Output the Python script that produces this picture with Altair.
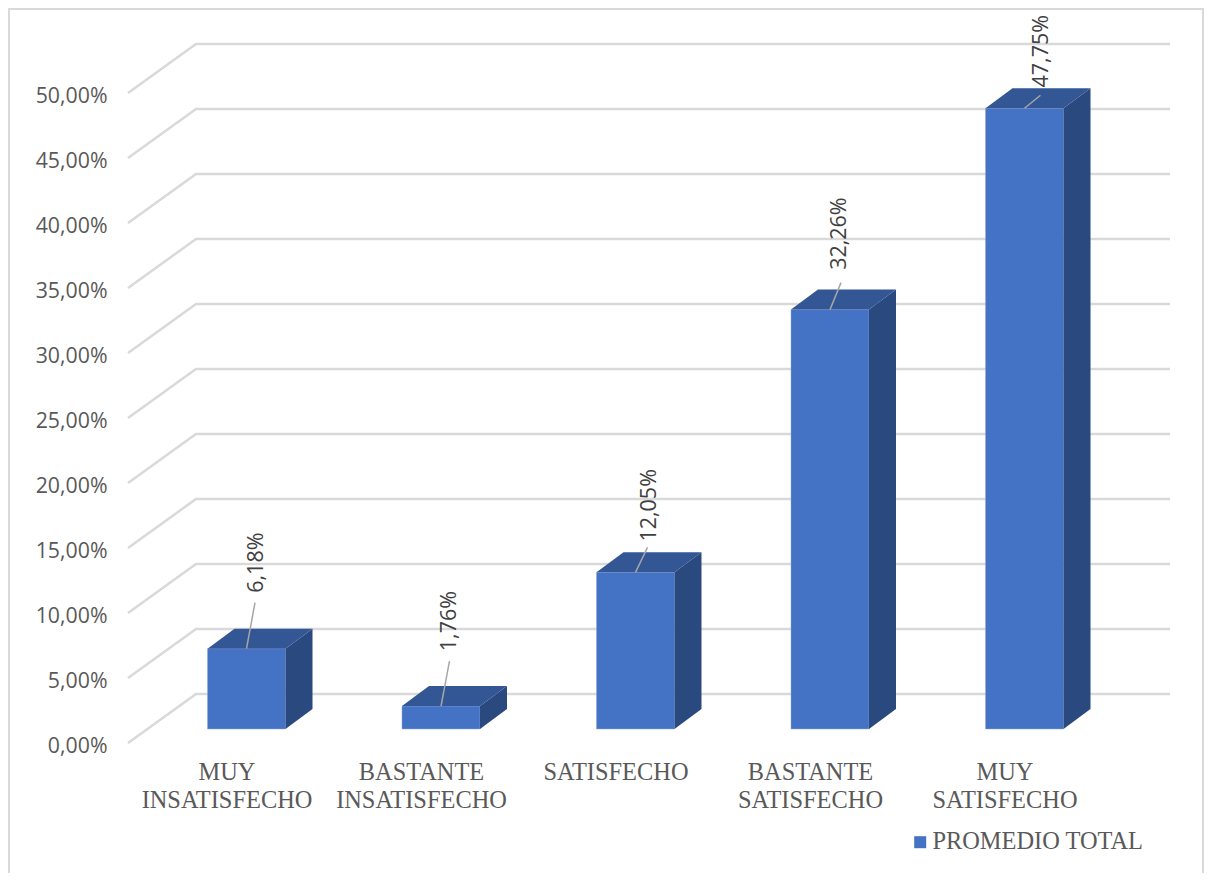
import altair as alt
import pandas as pd

categories = ["MUY\nINSATISFECHO", "BASTANTE\nINSATISFECHO", "SATISFECHO", "BASTANTE\nSATISFECHO", "MUY\nSATISFECHO"]
values = [6.18, 1.76, 12.05, 32.26, 47.75]
value_labels = ["6,18%", "1,76%", "12,05%", "32,26%", "47,75%"]
ticks = [0, 5, 10, 15, 20, 25, 30, 35, 40, 45, 50]
series_name = "PROMEDIO TOTAL"

# pixel geometry of the fake 3-D projection
PAD_L, PAD_T, W, H = 120, 1, 1076, 864
PX_X, PX_Y = 194.5, 13.0          # px per category, px per percent
X0, Y0 = 246.5 - 8 - PAD_L, 729 - 8 - PAD_T   # plot px of category 0 / value 0
BAR_HALF = 39 / PX_X
DX, DY = 27 / PX_X, 20 / PX_Y     # bar depth
WALL_DX, WALL_DY = 68 / PX_X, 49 / PX_Y
FRONT_Y = -14 / PX_Y              # floor front edge relative to the bars
FRONT_X = (128 - 246.5) / PX_X
BACK_RIGHT = (1170 - 246.5) / PX_X

# leader end and label centre offsets from the bar-top centre, px
leader_end = [(8.5, 46), (8.5, 45), (12, 25), (11, 27), (16, 13)]
label_off = [(10, 86), (8.5, 85), (14, 67), (10, 76), (17, 57)]

xs = alt.Scale(domain=[-X0 / PX_X, (W - X0) / PX_X], nice=False, zero=False)
ys = alt.Scale(domain=[(Y0 - H) / PX_Y, Y0 / PX_Y], nice=False, zero=False)

FONT_SANS = "Open Sans"
FONT_SERIF = "Liberation Serif"
TXT = "#595959"
GRID = "#d9d9d9"

y_axis_def = alt.Axis(
    values=ticks, title=None, domain=False, ticks=False, grid=False,
    labelExpr="replace(format(datum.value, '.2f'), '.', ',') + '%'",
    labelFont=FONT_SANS, labelFontSize=21.3, labelColor=TXT,
    labelOffset=17, labelPadding=21, labelBaseline="middle", labelFlush=False,
    labelOverlap=False,
)

X = lambda f="x": alt.X(f"{f}:Q", scale=xs, axis=None)
Y = lambda f="y": alt.Y(f"{f}:Q", scale=ys, axis=y_axis_def, stack=None)

# walls
grid_rows = []
for t in ticks:
    b = t + FRONT_Y
    grid_rows += [
        dict(t=t, x=FRONT_X, y=b),
        dict(t=t, x=FRONT_X + WALL_DX, y=b + WALL_DY),
        dict(t=t, x=BACK_RIGHT, y=b + WALL_DY),
    ]
grid = alt.Chart(pd.DataFrame(grid_rows)).mark_line(color=GRID, strokeWidth=2.5, strokeJoin="miter").encode(
    x=X(), y=Y(), detail="t:N", order="x:Q"
)

# 3-D bars
df = pd.DataFrame({
    "i": list(range(5)), "v": values, "s": [series_name] * 5,
    "cat": categories, "lab": value_labels,
})
df["l"], df["r"] = df.i - BAR_HALF, df.i + BAR_HALF
df["zero"] = 0.0

side_rows, top_rows, lead_rows, text_rows = [], [], [], []
for i, v in enumerate(values):
    r, l = i + BAR_HALF, i - BAR_HALF
    side_rows += [dict(i=i, x=r, lo=0.0, hi=v), dict(i=i, x=r + DX, lo=DY, hi=v + DY)]
    top_rows += [
        dict(i=i, x=l, lo=v, hi=v),
        dict(i=i, x=l + DX, lo=v, hi=v + DY),
        dict(i=i, x=r, lo=v, hi=v + DY),
        dict(i=i, x=r + DX, lo=v + DY, hi=v + DY),
    ]
    ex, ey = leader_end[i]
    lead_rows += [dict(i=i, x=i, y=v), dict(i=i, x=i + ex / PX_X, y=v + ey / PX_Y)]
    ox, oy = label_off[i]
    text_rows.append(dict(x=i + ox / PX_X, y=v + oy / PX_Y, lab=value_labels[i]))

front = alt.Chart(df).mark_bar(stroke="#8faadc", strokeWidth=0.5).encode(
    x=X("l"), x2="r",
    y=Y("zero"), y2="v",
    color=alt.Color("s:N", scale=alt.Scale(range=["#4472C4"]), legend=alt.Legend(
        orient="none", legendX=908 - 8 - PAD_L, legendY=830 - 8 - PAD_T, title=None,
        symbolType="square", symbolSize=144, symbolStrokeWidth=0, labelLimit=400,
        labelFont=FONT_SERIF, labelFontSize=24.4, labelColor=TXT, labelOffset=0, padding=0,
    )),
)
side = alt.Chart(pd.DataFrame(side_rows)).mark_area(color="#2a4a7f", orient="vertical", opacity=1).encode(
    x=X(), y=Y("lo"), y2="hi", detail="i:N"
)
top = alt.Chart(pd.DataFrame(top_rows)).mark_area(color="#335695", orient="vertical", opacity=1).encode(
    x=X(), y=Y("lo"), y2="hi", detail="i:N"
)
leader = alt.Chart(pd.DataFrame(lead_rows)).mark_line(color="#a6a6a6", strokeWidth=1.5).encode(
    x=X(), y=Y(), detail="i:N", order="y:Q"
)
val_text = alt.Chart(pd.DataFrame(text_rows)).mark_text(
    angle=270, font=FONT_SANS, fontSize=21.5, color="#404040", align="center", baseline="middle"
).encode(x=X(), y=Y(), text="lab:N")

cat_text = alt.Chart(df).mark_text(
    font=FONT_SERIF, fontSize=24.4, color=TXT, align="center", baseline="top",
    lineBreak="\n", lineHeight=28, dx=-19.5,
).encode(x=alt.X("i:Q", scale=xs, axis=None), y=alt.value(761 - 8 - PAD_T), text="cat:N")

# picture frame (top, left, right)
frame = alt.Chart(pd.DataFrame({"a": [0]})).mark_rule(color=GRID, strokeWidth=2)
frame_top = frame.encode(x=alt.value(-PAD_L), x2=alt.value(W), y=alt.value(0))
frame_left = frame.encode(x=alt.value(-PAD_L + 1), y=alt.value(0), y2=alt.value(H))
frame_right = frame.encode(x=alt.value(W - 1), y=alt.value(0), y2=alt.value(H))

chart = alt.layer(
    frame_top, frame_left, frame_right, grid, front, side, top, leader, val_text, cat_text
).resolve_scale(x="shared", y="shared").properties(
    width=W, height=H,
    padding=alt.Padding(left=PAD_L, top=PAD_T, right=0, bottom=0),
    autosize=alt.AutoSizeParams(type="none"),
    background="white",
).configure_view(stroke=None)

chart.save("out.html", embed_options={"renderer": "svg", "actions": False})
